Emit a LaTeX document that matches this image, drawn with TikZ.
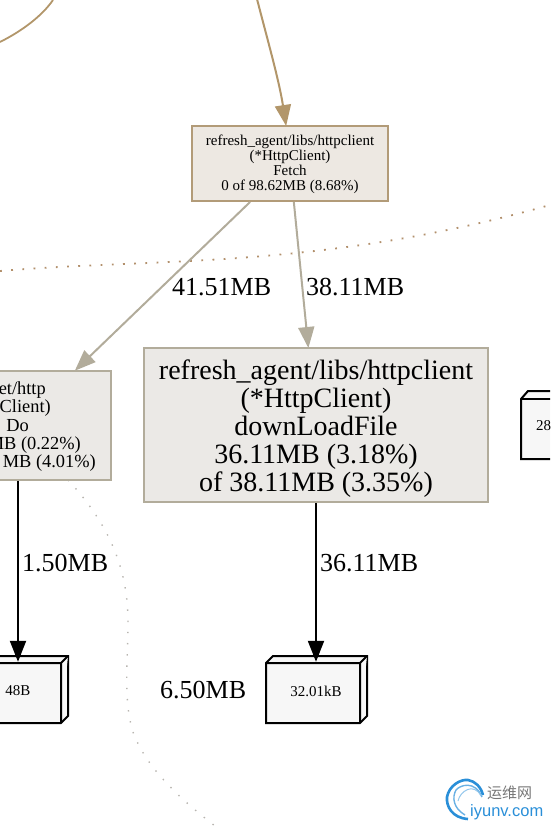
\documentclass[tikz,border=0pt]{standalone}
\usepackage{fontspec}
\setmainfont{Liberation Serif}
\newfontfamily\cjkfont{Noto Sans CJK SC}
\newfontfamily\logofont{Liberation Sans}
\usetikzlibrary{arrows.meta}
\definecolor{edgetan}{HTML}{B2966A}
\definecolor{edgegray}{HTML}{B2AC9B}
\definecolor{boxfill}{HTML}{EBE9E6}
\definecolor{fetchfill}{HTML}{EDE8E2}
\definecolor{fetchline}{HTML}{B29B78}
\definecolor{dotbrown}{HTML}{B2906C}
\definecolor{dotgray}{HTML}{B8B5B0}
\definecolor{logoblue}{HTML}{2A8FD8}
\definecolor{logogray}{HTML}{777777}
\tikzset{
  fnbox/.style={draw=edgegray,fill=boxfill,line width=2pt,inner sep=0pt,align=center},
  elabel/.style={font=\fontsize{26}{26}\selectfont,anchor=base west,inner sep=0pt},
  memtext/.style={font=\fontsize{15}{15}\selectfont,inner sep=0pt},
  dotext/.style={font=\fontsize{18.4}{18.4}\selectfont,anchor=base east,inner sep=0pt},
  bigtip/.style={-{Triangle[length=21pt,width=16pt]},shorten >=-1pt},
  medge/.style={line width=2pt,draw=black,bigtip},
  memface/.style={draw=black,fill=white!97!black,line width=2pt,line join=miter},
}
\begin{document}
\begin{tikzpicture}[x=1pt,y=-1pt]
\useasboundingbox (0,0) rectangle (550,826);
\clip (0,0) rectangle (550,826);
% background dotted paths
\draw[dotbrown,line width=1.8pt,dash pattern=on 1.8pt off 9.4pt] (0,271) .. controls (150,258) and (320,270) .. (550,205);
\draw[dotgray,line width=1.4pt,dash pattern=on 1.4pt off 9.8pt] (68,480) .. controls (110,525) and (128,570) .. (128,622) .. controls (128,660) and (123,700) .. (133,732) .. controls (145,765) and (175,795) .. (215,826);
\draw[edgetan,line width=1.8pt] (0,42) .. controls (22,31) and (42,16) .. (53,0);
% nodes
\node[fnbox,draw=fetchline,fill=fetchfill,minimum width=196pt,minimum height=75pt,font=\fontsize{15}{15}\selectfont] (fetch) at (290,163.5)
  {\rule{0pt}{13pt}refresh\_agent/libs/httpclient\\(*HttpClient)\\Fetch\\0 of 98.62MB (8.68\%)};
\node[fnbox,minimum width=344pt,minimum height=154pt,font=\fontsize{28}{28}\selectfont] (big) at (316,425)
  {\rule{0pt}{26pt}refresh\_agent/libs/httpclient\\(*HttpClient)\\downLoadFile\\36.11MB (3.18\%)\\of 38.11MB (3.35\%)};
\node[fnbox,minimum width=186pt,minimum height=109pt] (do) at (18,425.5) {};
\node[dotext] (l1) at (46,394) {et/http};
\node[dotext] (l2) at (51,412.5) {Client)};
\node[dotext] (l3) at (29,431) {Do};
\node[dotext] (l4) at (81,449) {MB (0.22\%)};
\node[dotext] (l5) at (96,467.5) {MB (4.01\%)};
% 3d memory boxes
\draw[memface] (-20,663) -- (-13,656) -- (68,656) -- (68,716) -- (61,723) -- (-20,723) -- cycle;
\draw[memface] (61,723) -- (61,663) -- (68,656) (61,663) -- (-20,663);
\node[memtext,minimum width=81pt,minimum height=60pt] (m1) at (18,691) {48B};
\draw[memface] (266,663) -- (273,656) -- (367,656) -- (367,716) -- (360,723) -- (266,723) -- cycle;
\draw[memface] (360,723) -- (360,663) -- (367,656) (360,663) -- (266,663);
\node[memtext,minimum width=94pt,minimum height=60pt] (m2) at (316,691) {32.01kB};
\draw[memface] (521,399) -- (528,391) -- (570,391) -- (570,459) -- (521,459) -- cycle;
\draw[memface] (521,399) -- (570,399);
\node[memtext,anchor=base west] (m3) at (536,430) {28};
% incoming edge
\coordinate (topin) at (257,-1);
\draw[edgetan,line width=2pt,-{Triangle[length=21pt,width=16pt]},shorten >=-1pt] (topin) .. controls (267,38) and (279,80) .. (fetch.north -| 286,0);
% edges
\draw[edgegray,line width=2pt,bigtip] (fetch) -- (do);
\draw[edgegray,line width=2pt,bigtip] (fetch) -- (big);
\draw[medge] (do.south) -- (do.south |- m1.north);
\draw[medge] (big.south) -- (big.south |- m2.north);
% labels
\node[elabel] (e1) at (172,295) {41.51MB};
\node[elabel] (e2) at (306,295) {38.11MB};
\node[elabel] (e3) at (22,571) {1.50MB};
\node[elabel] (e4) at (320,571) {36.11MB};
\node[elabel] (e5) at (160,698) {6.50MB};
% watermark
\draw[logoblue,line width=2.6pt] (468,819) .. controls (452,818) and (446,806) .. (447,797) .. controls (449,786) and (460,779) .. (468,780) .. controls (475,781) and (481,787) .. (483,795);
\draw[logoblue!70,line width=1.4pt] (465,815) .. controls (453,808) and (452,797) .. (456,790) .. controls (460,785) and (475,780) .. (482,797);
\draw[logoblue!50,line width=1pt] (458,801) .. controls (460,791) and (474,782) .. (481,796);
\node[font=\cjkfont\fontsize{15}{15}\selectfont,text=logogray,anchor=base west,inner sep=0pt] (w1) at (487,798.5) {运维网};
\node[font=\logofont\fontsize{16.5}{16.5}\selectfont,text=logoblue,anchor=base west,inner sep=0pt] (w2) at (470,816) {iyunv.com};
\end{tikzpicture}
\end{document}
